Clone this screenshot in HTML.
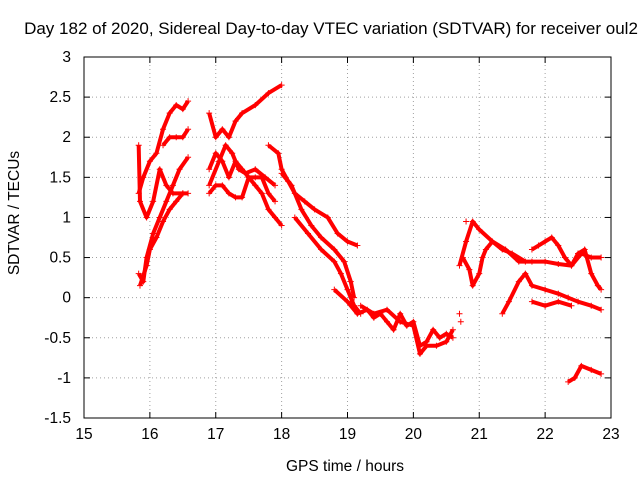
<!DOCTYPE html>
<html><head><meta charset="utf-8"><style>
body{margin:0;background:#fff}
svg{display:block;font-family:"Liberation Sans",Arial,sans-serif;font-size:15.5px}
</style></head><body>
<svg id="c" width="640" height="480">
<text x="331" y="34" text-anchor="middle" style="font-size:17px">Day 182 of 2020, Sidereal Day-to-day VTEC variation (SDTVAR) for receiver oul2</text>
<text x="345" y="471" text-anchor="middle">GPS time / hours</text>
<text transform="translate(19,213) rotate(-90)" text-anchor="middle">SDTVAR / TECUs</text>
<g id="grid"></g><g id="ticks"></g><g id="series"></g>
<rect x="84" y="57" width="527" height="361" fill="none" stroke="#000"/>
</svg>
<script>
const xTicks=[15,16,17,18,19,20,21,22,23];
const yTicks=[-1.5,-1,-0.5,0,0.5,1,1.5,2,2.5,3];
const yTickLabels=["-1.5","-1","-0.5","0","0.5","1","1.5","2","2.5","3"];
const sA1=[[15.83,1.3],[15.9,1.5],[16.0,1.7],[16.1,1.8],[16.2,2.1],[16.3,2.3],[16.4,2.4],[16.5,2.35],[16.58,2.45]];
const sA2=[[16.2,1.9],[16.3,2.0],[16.4,2.0],[16.5,2.0],[16.58,2.1]];
const sA3=[[15.83,0.3],[15.9,0.2],[15.95,0.5],[16.05,0.8],[16.15,1.0],[16.25,1.2],[16.35,1.4],[16.45,1.6],[16.58,1.75]];
const sA4=[[15.85,0.15],[15.95,0.4],[16.0,0.6],[16.1,0.75],[16.2,0.95],[16.3,1.1],[16.4,1.2],[16.5,1.3],[16.58,1.3]];
const sA5=[[15.83,1.9],[15.85,1.2],[15.95,1.0],[16.05,1.2],[16.15,1.6],[16.25,1.4],[16.35,1.3],[16.5,1.3]];
const sB1=[[16.9,2.3],[17.0,2.0],[17.1,2.1],[17.2,2.0],[17.3,2.2],[17.4,2.3],[17.6,2.4],[17.8,2.55],[18.0,2.65]];
const sB2=[[16.9,1.6],[17.0,1.8],[17.1,1.7],[17.2,1.5],[17.3,1.7],[17.4,1.6],[17.5,1.5],[17.6,1.4],[17.7,1.3],[17.8,1.1],[17.9,1.0],[18.0,0.9]];
const sB3=[[16.9,1.3],[17.0,1.4],[17.1,1.4],[17.2,1.3],[17.3,1.25],[17.4,1.25],[17.5,1.5],[17.6,1.5],[17.7,1.5],[17.8,1.3],[17.9,1.2]];
const sB4=[[16.9,1.4],[17.05,1.7],[17.15,1.9],[17.25,1.8],[17.35,1.6],[17.45,1.55],[17.6,1.6],[17.75,1.5],[17.9,1.4]];
const sC1=[[17.8,1.9],[17.95,1.8],[18.0,1.6],[18.1,1.45],[18.2,1.3],[18.35,1.2],[18.5,1.1],[18.7,1.0],[18.85,0.8],[19.0,0.7],[19.15,0.65]];
const sC2=[[18.0,1.55],[18.15,1.4],[18.3,1.1],[18.45,0.9],[18.6,0.75],[18.8,0.6],[18.95,0.45],[19.05,0.2],[19.1,0.0]];
const sC3=[[18.2,1.0],[18.4,0.8],[18.6,0.6],[18.8,0.45],[18.9,0.3],[19.0,0.1],[19.1,-0.1],[19.2,-0.2]];
const sD1=[[18.8,0.1],[19.0,-0.05],[19.15,-0.2],[19.3,-0.15],[19.4,-0.25],[19.5,-0.2],[19.6,-0.3],[19.7,-0.4],[19.8,-0.2],[19.9,-0.35],[20.0,-0.3],[20.1,-0.6],[20.2,-0.55],[20.3,-0.4],[20.4,-0.5],[20.5,-0.45],[20.6,-0.5]];
const sD2=[[19.2,-0.1],[19.4,-0.2],[19.6,-0.15],[19.8,-0.3],[20.0,-0.35],[20.1,-0.7],[20.2,-0.6],[20.35,-0.6],[20.5,-0.55],[20.6,-0.4]];
const sE1=[[20.7,0.4],[20.8,0.7],[20.9,0.95],[21.0,0.85],[21.2,0.7],[21.4,0.6],[21.6,0.45],[21.8,0.45],[22.0,0.45],[22.2,0.42],[22.4,0.4],[22.55,0.55],[22.7,0.5],[22.85,0.5]];
const sE2=[[20.75,0.5],[20.85,0.35],[20.9,0.15],[21.0,0.3],[21.05,0.5],[21.1,0.6],[21.2,0.7],[21.35,0.6],[21.5,0.55],[21.7,0.45]];
const sE3=[[21.35,-0.2],[21.45,-0.05],[21.6,0.2],[21.7,0.3],[21.8,0.15],[22.0,0.1],[22.2,0.05],[22.35,0.0],[22.5,-0.05],[22.7,-0.1],[22.85,-0.15]];
const sE4=[[21.8,0.6],[21.9,0.65],[22.0,0.7],[22.1,0.75],[22.2,0.65],[22.3,0.5],[22.4,0.4],[22.5,0.55],[22.6,0.6],[22.7,0.3],[22.8,0.15],[22.85,0.1]];
const sE5=[[21.8,-0.05],[22.0,-0.1],[22.2,-0.05],[22.4,-0.1]];
const sF=[[22.35,-1.05],[22.45,-1.0],[22.55,-0.85],[22.7,-0.9],[22.85,-0.95]];
const sIso=[[20.7,-0.2],[20.72,-0.3],[20.8,0.95]];
const allSeries=[sA1,sA2,sA3,sA4,sA5,sB1,sB2,sB3,sB4,sC1,sC2,sC3,sD1,sD2,sE1,sE2,sE3,sE4,sE5,sF];
const X0=84,X1=611,Y0=418,Y1=57;
const xs=v=>X0+(v-15)/(23-15)*(X1-X0);
const ys=v=>Y0-(v+1.5)/(3+1.5)*(Y0-Y1);
const NS="http://www.w3.org/2000/svg";
function mk(t,a,p){const e=document.createElementNS(NS,t);for(const k in a)e.setAttribute(k,a[k]);p.appendChild(e);return e;}
const grid=document.getElementById('grid'),tk=document.getElementById('ticks'),se=document.getElementById('series');
xTicks.forEach(v=>{const x=xs(v);
 if(v>15&&v<23){const g=mk('line',{x1:x,x2:x,y1:Y0,y2:Y1,stroke:'#a0a0a0','stroke-dasharray':'1,3'},grid);
 
 }
 mk('line',{x1:x,x2:x,y1:Y0,y2:Y0-6,stroke:'#000'},tk);mk('line',{x1:x,x2:x,y1:Y1,y2:Y1+6,stroke:'#000'},tk);
 const t=mk('text',{x:x,y:Y0+21,'text-anchor':'middle'},tk);t.textContent=v;
 
 });
yTicks.forEach((v,i)=>{const y=ys(v);
 if(v>-1.5&&v<3){const g=mk('line',{x1:X0,x2:X1,y1:y,y2:y,stroke:'#a0a0a0','stroke-dasharray':'1,3'},grid);
 
 }
 mk('line',{x1:X0,x2:X0+6,y1:y,y2:y,stroke:'#000'},tk);mk('line',{x1:X1,x2:X1-6,y1:y,y2:y,stroke:'#000'},tk);
 const t=mk('text',{x:X0-13,y:y+5,'text-anchor':'end'},tk);t.textContent=yTickLabels[i];
 
 });
function plus(x,y,p){mk('path',{d:`M${x-3} ${y}h6M${x} ${y-3}v6`,stroke:'#f00','stroke-width':1},p);}
allSeries.forEach(s=>{const g=mk('g',{},se);
 
 
 const pts=s.map(p=>xs(p[0])+','+ys(p[1])).join(' ');
 mk('polyline',{points:pts,fill:'none',stroke:'#f00','stroke-width':4,'stroke-linejoin':'round'},g);
 s.forEach(p=>plus(xs(p[0]),ys(p[1]),g));});
const gi=mk('g',{},se);


sIso.forEach(p=>plus(xs(p[0]),ys(p[1]),gi));
</script>
</body></html>
